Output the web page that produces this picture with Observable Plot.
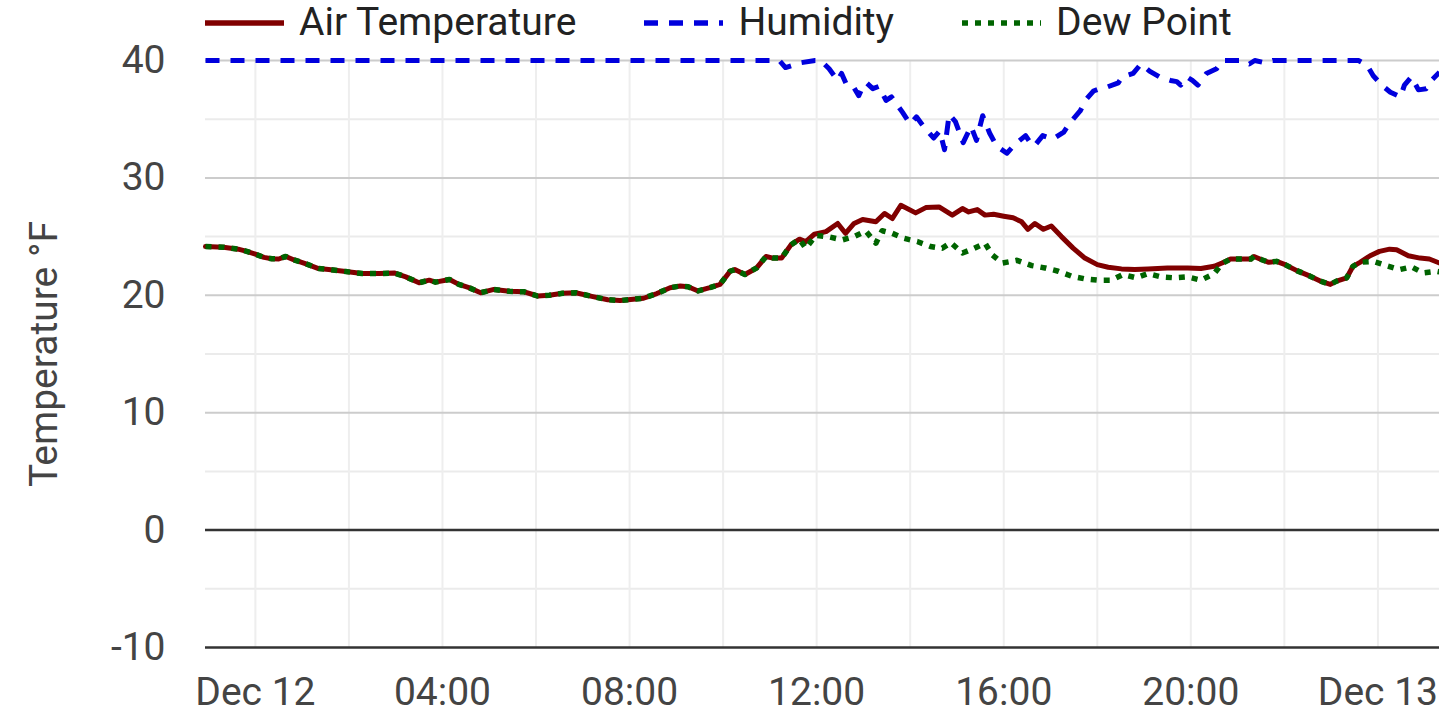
<!DOCTYPE html>
<html><head><meta charset="utf-8">
<script src="https://cdn.jsdelivr.net/npm/d3@7"></script>
<script src="https://cdn.jsdelivr.net/npm/@observablehq/plot@0.6"></script>
<style>
html,body{margin:0;padding:0;background:#fff;}
body{font-family:Roboto,sans-serif;width:1439px;height:723px;overflow:hidden;}
#legend{height:30px;display:flex;align-items:flex-start;padding-left:205px;font-size:39px;color:#222;overflow:visible;}
.item{display:flex;align-items:center;height:45px;line-height:45px;margin-right:68px;white-space:nowrap;}
.item svg{margin-right:15px;}
#chart svg{display:block;}
</style></head><body>
<div id="legend"></div><div id="chart"></div>
<script>
// ---- data ----
const seriesNames = ["Air Temperature", "Humidity", "Dew Point"];
const seriesColors = ["#800000", "#0000dd", "#006400"];
const seriesDash = [null, "14,11", "6,7"];

const airTimes = ["11 22:56","11 23:19","11 23:38","11 23:49","12 00:00","12 00:11","12 00:21","12 00:30","12 00:39","12 00:49","12 01:04","12 01:21","12 01:34","12 01:56","12 02:17","12 02:39","12 02:58","12 03:13","12 03:30","12 03:43","12 03:51","12 04:09","12 04:21","12 04:34","12 04:49","12 05:06","12 05:26","12 05:45","12 06:02","12 06:17","12 06:34","12 06:51","12 07:13","12 07:32","12 07:48","12 08:18","12 08:35","12 08:52","12 09:05","12 09:15","12 09:28","12 09:43","12 09:56","12 10:09","12 10:15","12 10:28","12 10:43","12 10:55","12 11:04","12 11:15","12 11:27","12 11:38","12 11:46","12 11:57","12 12:12","12 12:27","12 12:37","12 12:48","12 12:59","12 13:16","12 13:27","12 13:37","12 13:48","12 14:07","12 14:20","12 14:37","12 14:54","12 15:07","12 15:15","12 15:26","12 15:36","12 15:47","12 16:00","12 16:12","12 16:23","12 16:31","12 16:40","12 16:51","12 17:01","12 17:14","12 17:29","12 17:44","12 18:00","12 18:14","12 18:31","12 18:48","12 19:05","12 19:30","12 19:56","12 20:13","12 20:30","12 20:40","12 20:51","12 21:04","12 21:17","12 21:21","12 21:31","12 21:40","12 21:50","12 22:01","12 22:16","12 22:33","12 22:46","12 22:59","12 23:07","12 23:20","12 23:28","12 23:37","12 23:50","13 00:02","13 00:15","13 00:24","13 00:39","13 00:54","13 01:06","13 01:19"];
const airTemp = [24.15,24.1,23.93,23.74,23.5,23.23,23.12,23.09,23.31,23.03,22.7,22.28,22.2,22.02,21.85,21.85,21.9,21.57,21.07,21.29,21.12,21.35,20.93,20.65,20.22,20.5,20.34,20.3,19.94,20.0,20.17,20.22,19.89,19.62,19.55,19.75,20.15,20.65,20.79,20.73,20.37,20.65,20.93,22.05,22.19,21.77,22.33,23.3,23.17,23.17,24.3,24.78,24.58,25.2,25.42,26.12,25.28,26.12,26.46,26.26,26.97,26.54,27.67,27.02,27.47,27.53,26.83,27.39,27.1,27.3,26.83,26.9,26.74,26.6,26.26,25.62,26.12,25.62,25.9,25.0,24.02,23.17,22.61,22.39,22.25,22.19,22.25,22.33,22.33,22.28,22.47,22.75,23.09,23.09,23.09,23.31,23.03,22.81,22.89,22.61,22.1,21.63,21.21,20.93,21.21,21.49,22.47,22.81,23.37,23.74,23.93,23.88,23.37,23.17,23.09,22.75];

const dewTimes = ["11 22:56","11 23:19","11 23:38","11 23:49","12 00:00","12 00:11","12 00:21","12 00:30","12 00:39","12 00:49","12 01:04","12 01:21","12 01:34","12 01:56","12 02:17","12 02:39","12 02:58","12 03:13","12 03:30","12 03:43","12 03:51","12 04:09","12 04:21","12 04:34","12 04:49","12 05:06","12 05:26","12 05:45","12 06:02","12 06:17","12 06:34","12 06:51","12 07:13","12 07:32","12 07:48","12 08:18","12 08:35","12 08:52","12 09:05","12 09:15","12 09:28","12 09:43","12 09:56","12 10:09","12 10:15","12 10:28","12 10:43","12 10:55","12 11:04","12 11:15","12 11:27","12 11:38","12 11:46","12 11:59","12 12:14","12 12:33","12 12:48","12 13:03","12 13:16","12 13:24","12 13:37","12 13:52","12 14:09","12 14:26","12 14:41","12 14:52","12 15:07","12 15:22","12 15:36","12 15:45","12 15:58","12 16:17","12 16:36","12 16:53","12 17:10","12 17:27","12 17:44","12 18:01","12 18:18","12 18:33","12 18:50","12 19:05","12 19:22","12 19:39","12 19:56","12 20:13","12 20:30","12 20:40","12 20:51","12 21:04","12 21:17","12 21:21","12 21:31","12 21:40","12 21:50","12 22:01","12 22:16","12 22:33","12 22:46","12 22:59","12 23:07","12 23:20","12 23:28","12 23:37","12 23:54","13 00:11","13 00:28","13 00:43","13 00:58","13 01:15","13 01:19"];
const dewPoint = [24.15,24.1,23.93,23.74,23.5,23.23,23.12,23.09,23.31,23.03,22.7,22.28,22.2,22.02,21.85,21.85,21.9,21.57,21.07,21.29,21.12,21.35,20.93,20.65,20.22,20.5,20.34,20.3,19.94,20.0,20.17,20.22,19.89,19.62,19.55,19.75,20.15,20.65,20.79,20.73,20.37,20.65,20.93,22.05,22.19,21.77,22.33,23.3,23.17,23.17,24.3,24.78,24.0,25.1,25.0,24.72,25.0,25.48,24.44,25.5,25.28,24.86,24.58,24.16,24.0,24.49,23.6,24.0,24.44,23.46,22.75,22.98,22.53,22.33,22.05,21.63,21.4,21.29,21.29,21.77,21.49,21.85,21.57,21.49,21.57,21.29,21.85,22.7,23.09,23.09,23.09,23.31,23.03,22.81,22.89,22.61,22.1,21.63,21.21,20.93,21.21,21.49,22.47,22.81,22.89,22.53,22.19,22.42,21.91,22.05,22.0];

const humTimes = ["11 22:56","12 11:12","12 11:20","12 11:39","12 11:58","12 12:05","12 12:16","12 12:27","12 12:32","12 12:38","12 12:46","12 12:54","12 13:00","12 13:04","12 13:12","12 13:20","12 13:29","12 13:36","12 13:50","12 14:00","12 14:08","12 14:17","12 14:30","12 14:38","12 14:44","12 14:50","12 14:58","12 15:08","12 15:18","12 15:25","12 15:33","12 15:42","12 15:51","12 16:04","12 16:15","12 16:28","12 16:34","12 16:39","12 16:50","12 17:03","12 17:17","12 17:25","12 17:38","12 17:46","12 17:55","12 18:03","12 18:11","12 18:27","12 18:32","12 18:46","12 18:56","12 19:07","12 19:20","12 19:34","12 19:42","12 19:47","12 19:55","12 20:02","12 20:09","12 20:20","12 20:33","12 20:41","12 20:55","12 21:05","12 21:15","12 21:22","12 21:35","12 21:45","12 23:35","12 23:46","12 23:54","13 00:05","13 00:16","13 00:29","13 00:34","13 00:43","13 00:52","13 01:02","13 01:10","13 01:19"];
const humidity = [40,40,39.4,39.8,40,40,39.3,38.3,38.9,38.0,37.9,37.0,37.9,38.1,37.6,37.8,36.6,36.9,35.6,34.6,35.2,34.4,33.4,34.0,32.4,35.4,34.8,33.0,34.4,33.2,35.3,33.8,32.7,32.1,32.9,33.6,33.0,32.7,33.6,33.3,33.9,34.7,35.7,36.7,37.4,37.6,37.7,38.1,38.6,38.9,39.7,39.1,38.6,38.3,38.2,37.9,38.6,38.3,37.9,38.9,39.3,40,40,40,39.7,40,39.8,40,40,39.6,38.7,37.9,37.3,36.9,37.9,38.6,37.5,37.6,38.4,39.0];

const xDomain = ["11 22:56", "13 01:19"];
const xTickTimes = ["12 00:00","12 04:00","12 08:00","12 12:00","12 16:00","12 20:00","13 00:00"];
const xGridTimes = ["12 00:00","12 02:00","12 04:00","12 06:00","12 08:00","12 10:00","12 12:00","12 14:00","12 16:00","12 18:00","12 20:00","12 22:00","13 00:00"];
const yTicks = [-10, 0, 10, 20, 30, 40];
const yMinorTicks = [-5, 5, 15, 25, 35];
const yLabel = "Temperature °F";

// ---- helpers ----
const toDate = s => new Date(`2023-12-${s.slice(0, 2)}T${s.slice(3)}:00`);
const mk = (times, vals) => times.map((t, i) => ({time: toDate(t), value: vals[i]}));
const airData = mk(airTimes, airTemp);
const dewData = mk(dewTimes, dewPoint);
const humData = mk(humTimes, humidity);
const fmtDay = d3.timeFormat("%b %d");
const fmtHour = d3.timeFormat("%H:%M");

// ---- legend ----
const legend = document.getElementById("legend");
seriesNames.forEach((name, i) => {
  const item = document.createElement("div");
  item.className = "item";
  const dash = seriesDash[i] ? `stroke-dasharray="${seriesDash[i]}"` : "";
  item.innerHTML = `<svg width="79" height="12"><line x1="0" x2="79" y1="6" y2="6" stroke="${seriesColors[i]}" stroke-width="5.5" ${dash}/></svg><span>${name}</span>`;
  legend.appendChild(item);
});

// ---- chart ----
const chart = Plot.plot({
  width: 1439,
  height: 693,
  marginLeft: 205,
  marginRight: 0,
  marginTop: 30,
  marginBottom: 76,
  style: {fontFamily: "Roboto, sans-serif", fontSize: "39px", color: "#444", background: "transparent"},
  x: {type: "time", domain: xDomain.map(toDate)},
  y: {domain: [-10, 40]},
  marks: [
    Plot.ruleY(yMinorTicks, {stroke: "#ebebeb", strokeWidth: 2}),
    Plot.ruleX(xGridTimes.map(toDate), {stroke: "#eeeeee", strokeWidth: 2}),
    Plot.ruleY(yTicks.filter(v => v > 0), {stroke: "#cccccc", strokeWidth: 2}),
    Plot.ruleY(yTicks.filter(v => v <= 0), {stroke: "#333333", strokeWidth: 2.5}),
    Plot.axisX({ticks: xTickTimes.map(toDate), tickSize: 0, tickPadding: 30, label: null,
      tickFormat: d => d.getHours() === 0 && d.getMinutes() === 0 ? fmtDay(d) : fmtHour(d)}),
    Plot.axisY({ticks: yTicks, tickSize: 0, tickPadding: 40, label: yLabel, labelAnchor: "center",
      labelArrow: "none", labelOffset: 176, tickFormat: d => String(d)}),
    Plot.lineY(humData, {x: "time", y: "value", stroke: seriesColors[1], strokeWidth: 5,
      strokeDasharray: seriesDash[1], strokeLinecap: "butt"}),
    Plot.lineY(airData, {x: "time", y: "value", stroke: seriesColors[0], strokeWidth: 5}),
    Plot.lineY(dewData, {x: "time", y: "value", stroke: seriesColors[2], strokeWidth: 5.5,
      strokeDasharray: seriesDash[2], strokeLinecap: "butt"})
  ]
});
document.getElementById("chart").appendChild(chart);
</script>
</body></html>
